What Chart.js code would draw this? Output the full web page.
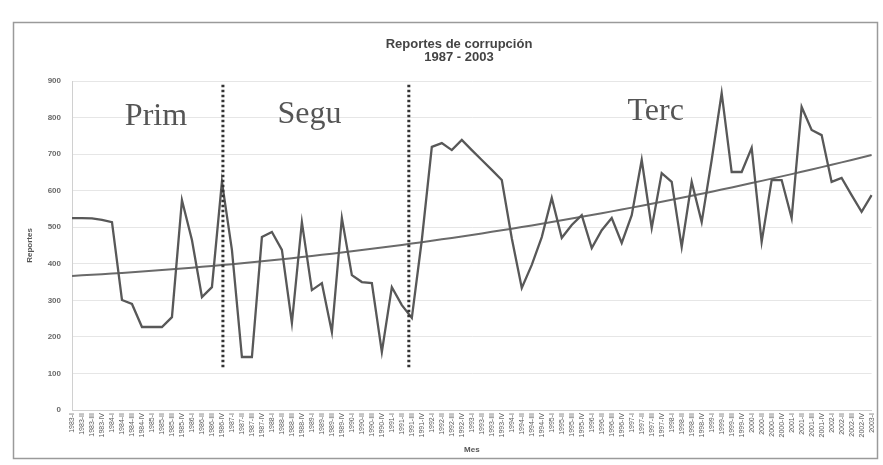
<!DOCTYPE html>
<html><head><meta charset="utf-8">
<script src="https://cdn.jsdelivr.net/npm/chart.js@4.4.0/dist/chart.umd.min.js"></script>
<style>html,body{margin:0;padding:0;background:#fff;}#wrap{width:883px;height:465px;position:relative;}canvas{display:block;}</style>
</head><body><div id="wrap"><canvas id="c" width="883" height="465"></canvas></div>
<script>
const titleLines = ['Reportes de corrupción', '1987 - 2003'];
const yAxisTitle = 'Reportes';
const xAxisTitle = 'Mes';
const categories = [
 '1983-I','1983-II','1983-III','1983-IV','1984-I','1984-II','1984-III','1984-IV',
 '1985-I','1985-II','1985-III','1985-IV','1986-I','1986-II','1986-III','1986-IV',
 '1987-I','1987-II','1987-III','1987-IV','1988-I','1988-II','1988-III','1988-IV',
 '1989-I','1989-II','1989-III','1989-IV','1990-I','1990-II','1990-III','1990-IV',
 '1991-I','1991-II','1991-III','1991-IV','1992-I','1992-II','1992-III','1992-IV',
 '1993-I','1993-II','1993-III','1993-IV','1994-I','1994-II','1994-III','1994-IV',
 '1995-I','1995-II','1995-III','1995-IV','1996-I','1996-II','1996-III','1996-IV',
 '1997-I','1997-II','1997-III','1997-IV','1998-I','1998-II','1998-III','1998-IV',
 '1999-I','1999-II','1999-III','1999-IV','2000-I','2000-II','2000-III','2000-IV',
 '2001-I','2001-II','2001-III','2001-IV','2002-I','2002-II','2002-III','2002-IV',
 '2003-I'
];
const reportes = [
 525, 525, 524, 520, 514, 301, 290, 227, 227, 227,
 254, 574, 465, 309, 336, 624, 438, 145, 145, 473,
 487, 438, 238, 514, 328, 347, 213, 525, 369, 350,
 347, 159, 336, 287, 252, 465, 720, 730, 711, 739,
 711, 684, 657, 629, 470, 334, 397, 473, 580, 471,
 506, 533, 443, 492, 525, 457, 533, 684, 498, 648,
 624, 446, 624, 514, 684, 867, 651, 651, 717, 460,
 629, 629, 525, 829, 766, 752, 624, 635, 588, 542,
 588
];
const yMin = 0, yMax = 900, yStep = 100;
const periodNames = ['Prim', 'Segu', 'Terc'];
const periodLabelIndex = [8.4, 23.75, 58.4];
const periodLabelValue = [780, 785, 793];
const dividerIndex = [15.1, 33.7];
const dividerSpan = [115, 890];

// 2nd-order polynomial least-squares trend computed from the series
function polyTrend(vals) {
  const n = vals.length;
  const S = [0, 0, 0, 0, 0], T = [0, 0, 0];
  for (let i = 0; i < n; i++) {
    const x = i + 1, y = vals[i];
    let p = 1;
    for (let k = 0; k < 5; k++) { S[k] += p; if (k < 3) T[k] += p * y; p *= x; }
  }
  const M = [[S[0], S[1], S[2], T[0]], [S[1], S[2], S[3], T[1]], [S[2], S[3], S[4], T[2]]];
  for (let c = 0; c < 3; c++) {
    for (let r = c + 1; r < 3; r++) {
      const f = M[r][c] / M[c][c];
      for (let k = c; k < 4; k++) M[r][k] -= f * M[c][k];
    }
  }
  const co = [0, 0, 0];
  for (let r = 2; r >= 0; r--) {
    let s = M[r][3];
    for (let k = r + 1; k < 3; k++) s -= M[r][k] * co[k];
    co[r] = s / M[r][r];
  }
  return vals.map((v, i) => co[0] + co[1] * (i + 1) + co[2] * (i + 1) * (i + 1));
}
const tendencia = polyTrend(reportes);

const decor = {
  id: 'decor',
  beforeDraw(chart) {
    const c = chart.ctx;
    c.save();
    c.fillStyle = '#ffffff';
    c.fillRect(0, 0, chart.width, chart.height);
    c.strokeStyle = '#9a9a9a';
    c.lineWidth = 1.5;
    c.strokeRect(13.5, 22.5, 864, 436);
    c.restore();
  },
  afterDatasetsDraw(chart) {
    const c = chart.ctx, xs = chart.scales.x, ys = chart.scales.y;
    const px = v => xs.getPixelForValue(0) + (xs.getPixelForValue(1) - xs.getPixelForValue(0)) * v;
    c.save();
    c.strokeStyle = '#333';
    c.lineWidth = 3;
    c.setLineDash([2.5, 2.5]);
    dividerIndex.forEach(d => {
      const x = px(d);
      c.beginPath();
      c.moveTo(x, ys.getPixelForValue(dividerSpan[1]));
      c.lineTo(x, ys.getPixelForValue(dividerSpan[0]));
      c.stroke();
    });
    c.setLineDash([]);
    c.fillStyle = '#555';
    c.font = '32px "Liberation Serif", "DejaVu Serif", serif';
    c.textAlign = 'center';
    c.textBaseline = 'alphabetic';
    periodNames.forEach((t, i) => {
      c.fillText(t, px(periodLabelIndex[i]), ys.getPixelForValue(periodLabelValue[i]));
    });
    c.fillStyle = '#444';
    c.font = 'bold 13px "Liberation Sans", Arial, sans-serif';
    c.textBaseline = 'middle';
    c.fillText(titleLines[0], 459, 44.5);
    c.fillText(titleLines[1], 459, 57.5);
    c.restore();
  }
};

new Chart(document.getElementById('c'), {
  type: 'line',
  data: {
    labels: categories,
    datasets: [
      { data: reportes, borderColor: '#585858', borderWidth: 2.3, pointRadius: 0, tension: 0, fill: false },
      { data: tendencia, borderColor: '#6a6a6a', borderWidth: 2, pointRadius: 0, tension: 0, fill: false }
    ]
  },
  options: {
    responsive: false,
    animation: false,
    devicePixelRatio: 1,
    layout: { padding: { left: 14, right: 8, top: 81, bottom: 7 } },
    plugins: { legend: { display: false }, tooltip: { enabled: false }, title: { display: false } },
    scales: {
      x: {
        offset: false,
        afterFit(s) { s.height = 48; },
        grid: { display: false, drawTicks: false },
        border: { display: true, color: '#d0d0d0' },
        ticks: { autoSkip: false, maxRotation: 90, minRotation: 90, padding: 3, color: '#5a5a5a',
                 font: { size: 7, family: '"Liberation Sans", Arial, sans-serif' } },
        title: { display: true, text: xAxisTitle, color: '#555', padding: { top: 0, bottom: 3 },
                 font: { size: 8, weight: 'bold', family: '"Liberation Sans", Arial, sans-serif' } }
      },
      y: {
        min: yMin, max: yMax,
        afterFit(s) { s.width = 58; },
        grid: { color: '#e6e6e6', drawTicks: false },
        border: { display: true, color: '#d0d0d0' },
        ticks: { stepSize: yStep, padding: 11, color: '#6a6a6a',
                 font: { size: 8, weight: 'bold', family: '"Liberation Sans", Arial, sans-serif' } },
        title: { display: true, text: yAxisTitle, color: '#555', padding: { top: 11, bottom: 0 },
                 font: { size: 8, weight: 'bold', family: '"Liberation Sans", Arial, sans-serif' } }
      }
    }
  },
  plugins: [decor]
});
</script>
</body></html>
